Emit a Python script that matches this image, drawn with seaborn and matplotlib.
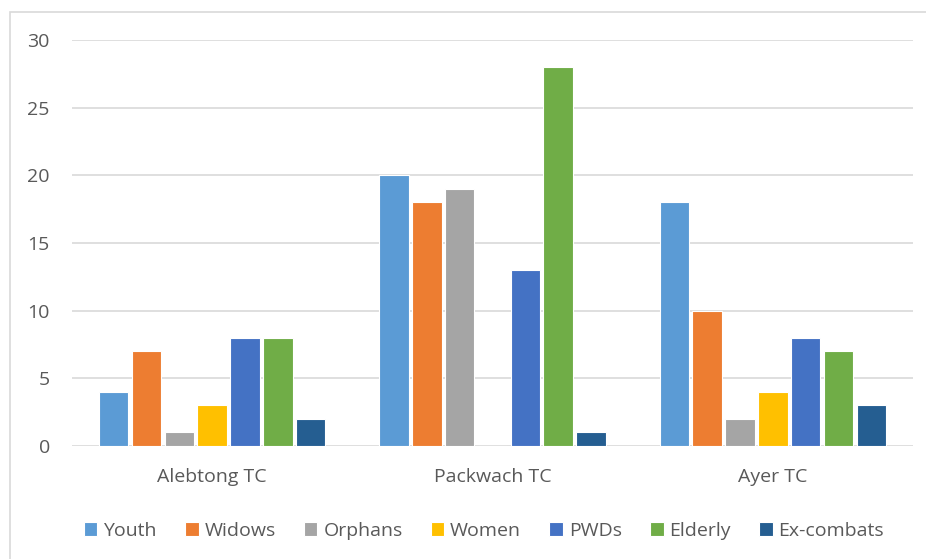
import matplotlib
matplotlib.use("Agg")
import matplotlib.pyplot as plt
import seaborn as sns
import pandas as pd
from matplotlib.patches import Rectangle

categories = ["Alebtong TC", "Packwach TC", "Ayer TC"]
series = ["Youth", "Widows", "Orphans", "Women", "PWDs", "Elderly", "Ex-combats"]
youth = [4, 20, 18]
widows = [7, 18, 10]
orphans = [1, 19, 2]
women = [3, 0, 4]
pwds = [8, 13, 8]
elderly = [8, 28, 7]
excombats = [2, 1, 3]
colors = ["#5B9BD5", "#ED7D31", "#A5A5A5", "#FFC000", "#4472C4", "#70AD47", "#255E91"]
yticks = [0, 5, 10, 15, 20, 25, 30]

values = [youth, widows, orphans, women, pwds, elderly, excombats]
rows = []
for s, vals in zip(series, values):
    for c, v in zip(categories, vals):
        rows.append({"Category": c, "Series": s, "Value": v})
df = pd.DataFrame(rows)

sns.set_style("white")
plt.rcParams["font.family"] = ["Open Sans", "DejaVu Sans"]

fig = plt.figure(figsize=(9.26, 5.59), dpi=100)
ax = fig.add_axes([72/926, 1-446/559, (913-72)/926, (446-40)/559])

sns.barplot(data=df, x="Category", y="Value", hue="Series", hue_order=series,
            order=categories, palette=colors, width=0.82, gap=0.1,
            edgecolor="white", linewidth=0.8, ax=ax, legend=True, saturation=1)

ax.set_ylim(0, 30)
ax.set_xlim(-0.5, 2.5)
ax.set_yticks(yticks)
ax.set_yticklabels([str(t) for t in yticks])
ax.yaxis.grid(True, color="#D9D9D9", linewidth=1.2)
ax.set_axisbelow(True)
for sp in ax.spines.values():
    sp.set_visible(False)
ax.tick_params(axis="both", length=0, labelsize=14, colors="#595959")
ax.tick_params(axis="y", pad=16)
ax.tick_params(axis="x", pad=16)
ax.set_xlabel("")
ax.set_ylabel("")

leg = ax.legend(loc="center", bbox_to_anchor=((484-72)/(913-72), (446-531)/(446-40)),
                ncol=7, frameon=False, fontsize=14, handlelength=0.7, handleheight=0.7,
                columnspacing=1.45, handletextpad=0.3)
for t in leg.get_texts():
    t.set_color("#595959")

fig.patches.append(Rectangle((10/926, -0.1), 1.1, 1 - 12/559 + 0.1, transform=fig.transFigure,
                             fill=False, edgecolor="#D9D9D9", linewidth=1.2))

fig.savefig("out.png", dpi=100)
